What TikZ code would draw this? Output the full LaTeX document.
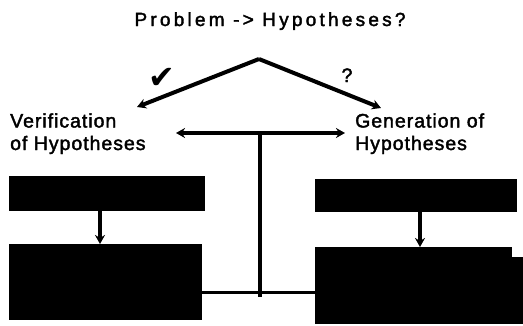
\documentclass[tikz,border=0pt]{standalone}
\usepackage{fontspec}
\setmainfont{Liberation Sans}[LetterSpace=5,FakeBold=2]
\newfontfamily\titlefont{Liberation Sans}[LetterSpace=17,FakeBold=2]
\newfontfamily\symfont{DejaVu Sans}
\usepackage{tikz}
\usetikzlibrary{positioning,calc,arrows.meta}

\tikzset{
    lbl/.style={font=\fontsize{19.5}{22.5}\selectfont, align=left, inner sep=0pt, anchor=base west},
    blackbox/.style={fill=black, draw=none, inner sep=0pt, anchor=north west},
    arr/.style={line width=4pt, -{Stealth[length=9pt,width=10pt]}},
    dblarr/.style={line width=4pt, {Stealth[length=9pt,width=10pt]}-{Stealth[length=9pt,width=10pt]}}
}

\begin{document}
\begin{tikzpicture}[x=1pt,y=-1pt]
    \useasboundingbox (0,0) rectangle (523,325);

    % title and the two branches
    \node[font=\fontsize{19}{19}\selectfont, inner sep=0pt, anchor=base] (title) at (270,26) {\titlefont Problem -> Hypotheses?};
    \coordinate (apex) at (259,59);
    \coordinate (vtip) at (137,107);
    \coordinate (gtip) at (381,108);
    \draw[arr] (apex) -- (vtip);
    \draw[arr] (apex) -- (gtip);
    \node[font=\fontsize{32}{32}\selectfont, inner sep=0pt] (tick) at (162,78) {\symfont ✔};
    \node[lbl, anchor=base] (quest) at (347,82) {?};

    % labels
    \node[lbl] (ver) at (10,150) {Verification\\of Hypotheses};
    \node[lbl] (gen) at (355,150) {Generation of\\Hypotheses};

    % the T between them
    \coordinate (tl) at (176,133);
    \coordinate (tr) at (345,133);
    \coordinate (tc) at (260,133);
    \coordinate (tb) at (260,297);
    \draw[dblarr] (tl) -- (tr);
    \draw[line width=4pt] (tc) -- (tb);

    % blocks
    \node[blackbox, minimum width=196pt, minimum height=35pt] (vtop) at (9,176) {};
    \node[blackbox, minimum width=193pt, minimum height=76pt] (vbot) at (9,244) {};
    \node[blackbox, minimum width=202pt, minimum height=33pt] (gtop) at (315,179) {};
    \node[blackbox, minimum width=197pt, minimum height=77pt] (gbot) at (315,247) {};
    \fill (gbot.north east) ++(0,10) rectangle (523,324);

    \draw[arr] (vtop.south -| 100,0) -- (vbot.north -| 100,0);
    \draw[arr] (gtop.south -| 420,0) -- (gbot.north -| 420,0);
    \draw[line width=3pt] (vbot.east |- 0,292) -- (gbot.west |- 0,292);
\end{tikzpicture}
\end{document}
